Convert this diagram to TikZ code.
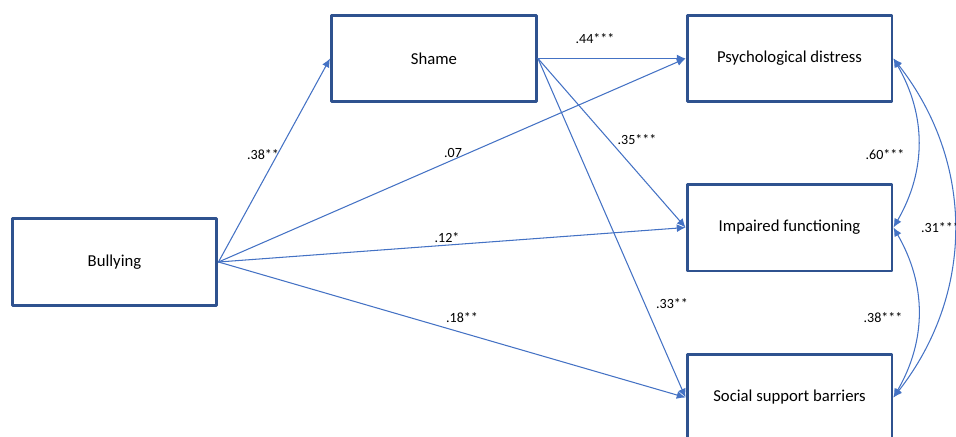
\documentclass[tikz,border=0pt]{standalone}
\usepackage{fontspec}
\setmainfont{Carlito}
\usetikzlibrary{arrows.meta}
\definecolor{boxblue}{RGB}{47,82,143}
\definecolor{lineblue}{RGB}{68,114,196}
\tikzset{
  varbox/.style={draw=boxblue,line width=1.7pt,minimum width=4.1cm,minimum height=1.74cm,font=\fontsize{9.5}{11}\selectfont},
  path/.style={draw=lineblue,line width=0.6pt,-{Latex[length=5pt,width=4.5pt]}},
  cov/.style={draw=lineblue,line width=0.6pt,{Latex[length=5pt,width=4.5pt]}-{Latex[length=5pt,width=4.5pt]}},
  coef/.style={font=\fontsize{8}{9}\selectfont,inner sep=1pt}
}
\begin{document}
\begin{tikzpicture}[line cap=round,line join=round,x=0.02cm,y=-0.02cm]
  \useasboundingbox (0,0) rectangle (956,436);
  \node[varbox] (bul) at (114.5,262) {Bullying};
  \node[varbox] (sha) at (434,58.5) {Shame};
  \node[varbox] (psy) at (789.5,58.5) {Psychological distress};
  \node[varbox] (imp) at (789.5,227.5) {Impaired functioning};
  \node[varbox] (soc) at (789.5,397.5) {Social support barriers};
  % paths from bullying
  \draw[path] (bul.east) -- (sha.west);
  \draw[path] (bul.east) -- (psy.west);
  \draw[path] (bul.east) -- (imp.west);
  \draw[path] (bul.east) -- (soc.west);
  % paths from shame
  \draw[path] (sha.east) -- (psy.west);
  \draw[path] (sha.east) -- (imp.west);
  \draw[path] (sha.east) -- (soc.west);
  % covariances
  \draw[cov] (psy.east) to[bend left=30] (imp.east);
  \draw[cov] (imp.east) to[bend left=30] (soc.east);
  \draw[cov] (psy.east) to[bend left=38] (soc.east);
  % coefficients
  \node[coef] (c1) at (263,155) {.38**};
  \node[coef] (c2) at (453,153) {.07};
  \node[coef] (c3) at (447,238) {.12*};
  \node[coef] (c4) at (462,318) {.18**};
  \node[coef] (c5) at (595,39) {.44***};
  \node[coef] (c6) at (637,140) {.35***};
  \node[coef] (c7) at (672,304) {.33**};
  \node[coef] (c8) at (885,155) {.60***};
  \node[coef] (c9) at (883,318) {.38***};
  \node[coef,anchor=west] (c10) at (919,228) {.31***};
\end{tikzpicture}
\end{document}
